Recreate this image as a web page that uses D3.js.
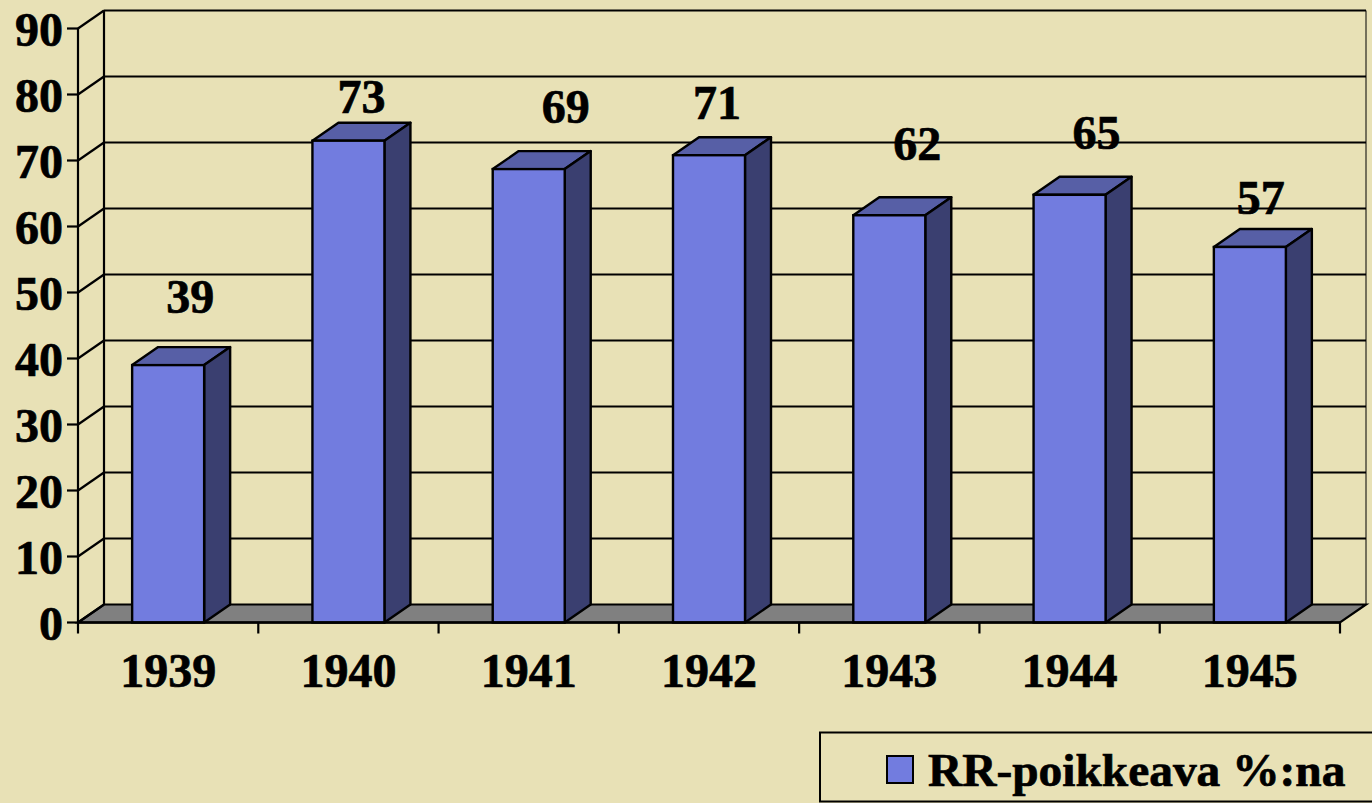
<!DOCTYPE html>
<html><head><meta charset="utf-8">
<script src="https://cdnjs.cloudflare.com/ajax/libs/d3/7.8.5/d3.min.js"></script>
<style>html,body{margin:0;padding:0;background:#E8E1B6}svg{display:block}text{font-family:"Liberation Serif",serif;font-weight:700;fill:#000;stroke:#000;stroke-width:.7px}</style>
</head><body><script>
const years=["1939","1940","1941","1942","1943","1944","1945"];
const barValues=[39,73,68.7,70.8,61.7,64.8,56.9];
const labels=[39,73,69,71,62,65,57];
const yTicks=[0,10,20,30,40,50,60,70,80,90];
const seriesName="RR-poikkeava %:na";
// hand-placed data label nudges of the original chart (dx, dy from bar top)
const labelDx=[22,13,37,8,28,27,11];
const labelDy=[-52,-28,-46,-36,-55,-46,-33];

const W=1372,H=803,dx=26,dy=-18;
const x=d3.scaleBand().domain(years).range([78,1340]);
const y=d3.scaleLinear().domain([0,90]).range([622.5,28.5]);
const barW=72;
const barX=d=>x(d)+x.bandwidth()/2-barW/2;
const svg=d3.select("body").append("svg").attr("width",W).attr("height",H);
const lw=2.2;
const line=(g,a,b,c,d,w=lw)=>g.append("line").attr("x1",a).attr("y1",b).attr("x2",c).attr("y2",d).attr("stroke","#000").attr("stroke-width",w);
svg.append("rect").attr("width",W).attr("height",H).attr("fill","#E8E1B6");

// floor
const [x0,x1]=x.range(), y0=y(0);
svg.append("polygon").attr("points",[[x0,y0],[x0+dx,y0+dy],[x1+dx,y0+dy],[x1,y0]].join(" "))
  .attr("fill","#808080").attr("stroke","#000").attr("stroke-width",lw);
// back wall + gridlines
const grid=svg.append("g");
yTicks.forEach(t=>{
  if(t>0) line(grid,x0+dx,y(t)+dy,x1+dx,y(t)+dy);
  line(grid,x0,y(t),x0+dx,y(t)+dy);
  line(grid,x0-11,y(t),x0,y(t));
});
line(grid,x0,y(0),x0,y(90));
line(grid,x0+dx,y(0)+dy,x0+dx,y(90)+dy);
line(grid,x1+dx,y(0)+dy,x1+dx,y(90)+dy,1);
// x ticks
[...years.map(d=>x(d)),x1].forEach(v=>line(grid,v,y0,v,y0+11));

// bars
const bars=svg.append("g").selectAll("g").data(years).join("g");
const sw=2.4;
bars.append("polygon").attr("fill","#575FA6").attr("stroke","#000").attr("stroke-width",sw).attr("stroke-linejoin","round")
  .attr("points",(d,i)=>{const a=barX(d),t=y(barValues[i]);return [[a,t],[a+dx,t+dy],[a+barW+dx,t+dy],[a+barW,t]].join(" ")});
bars.append("polygon").attr("fill","#3A3F70").attr("stroke","#000").attr("stroke-width",sw).attr("stroke-linejoin","round")
  .attr("points",(d,i)=>{const a=barX(d)+barW,t=y(barValues[i]);return [[a,t],[a+dx,t+dy],[a+dx,y0+dy],[a,y0]].join(" ")});
bars.append("rect").attr("fill","#727CDF").attr("stroke","#000").attr("stroke-width",sw)
  .attr("x",d=>barX(d)).attr("y",(d,i)=>y(barValues[i])).attr("width",barW).attr("height",(d,i)=>y0-y(barValues[i]));
line(svg,x0,y0,x1,y0,2.4);

// y labels
svg.append("g").selectAll("text").data(yTicks).join("text")
  .attr("x",63).attr("y",d=>y(d)+17).attr("text-anchor","end").attr("font-size",48).text(d=>d);
// x labels
svg.append("g").selectAll("text").data(years).join("text")
  .attr("x",d=>x(d)+x.bandwidth()/2).attr("y",687).attr("text-anchor","middle").attr("font-size",48).text(d=>d);
// value labels
svg.append("g").selectAll("text").data(labels).join("text")
  .attr("x",(d,i)=>x(years[i])+x.bandwidth()/2+labelDx[i]).attr("y",(d,i)=>y(barValues[i])+labelDy[i])
  .attr("text-anchor","middle").attr("font-size",48).text(d=>d);

// legend
svg.append("rect").attr("x",820).attr("y",732.5).attr("width",560).attr("height",69).attr("fill","none").attr("stroke","#000").attr("stroke-width",2);
svg.append("rect").attr("x",887).attr("y",756).attr("width",26).attr("height",27).attr("fill","#727CDF").attr("stroke","#000").attr("stroke-width",2);
svg.append("text").attr("x",928).attr("y",786).attr("font-size",47.4).text(seriesName);
</script></body></html>
